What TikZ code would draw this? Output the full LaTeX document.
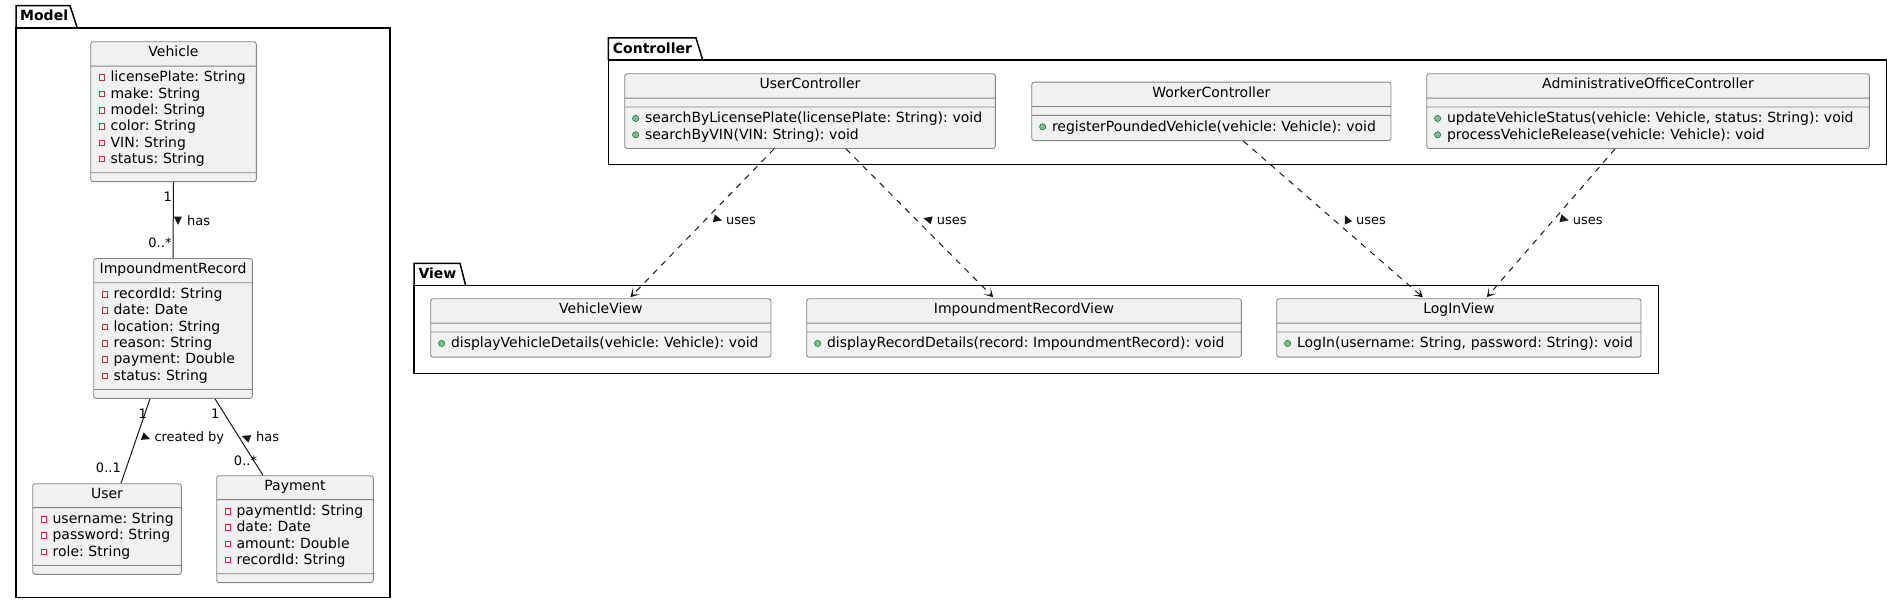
\documentclass[tikz,border=0pt]{standalone}
\usepackage{fontspec}
\setmainfont{DejaVu Sans}
\usepackage{tikz}
\usetikzlibrary{shapes.multipart,arrows.meta}
\definecolor{clsfill}{HTML}{F1F1F1}
\definecolor{clsline}{HTML}{858585}
\definecolor{edgecol}{HTML}{181818}
\definecolor{privred}{HTML}{C82930}
\definecolor{pubfill}{HTML}{84BE84}
\definecolor{publine}{HTML}{038048}
\frenchspacing
\newcommand{\privicon}{\tikz[baseline=0pt]\draw[privred,sharp corners,line width=0.9pt] (0pt,1.5pt) rectangle (5.6pt,7.1pt);}
\newcommand{\pubicon}{\tikz[baseline=0pt]\filldraw[fill=pubfill,draw=publine,line width=0.6pt] (0pt,4.4pt) circle[radius=3.1pt];}
\newcommand{\priv}[1]{\mbox{\strut\hspace*{2pt}\privicon\hspace{5.4pt}#1}}
\newcommand{\pub}[1]{\mbox{\strut\hspace*{1.5pt}\pubicon\hspace{6pt}#1}}
\newcommand{\clstitle}[1]{\noindent\hbox to\hsize{\hfil\rule[-4.8pt]{0pt}{13pt}#1\hfil}}
\newcommand{\lblarrow}[3]{\fill[edgecol,shift={(#1,#2)},rotate=#3] (4.5,0) -- (-4,4) -- (-4,-4) -- cycle;}

\begin{document}
\begin{tikzpicture}[x=1pt,y=-1pt,
  umlclass/.style={rectangle split, rectangle split parts=3, draw=clsline, fill=clsfill,
    line width=0.9pt, rounded corners=2.5pt, inner xsep=6pt, inner ysep=4pt, align=left,
    rectangle split empty part height=0pt, rectangle split empty part depth=0pt,
    anchor=north, font=\fontsize{14}{16.3}\selectfont},
  pkgline/.style={draw=black, line width=1.5pt},
  pkglabel/.style={anchor=base west, inner sep=0pt, font=\bfseries\fontsize{14}{16.3}\selectfont},
  mult/.style={inner sep=0pt, text height=9.5pt, text depth=2.5pt, font=\fontsize{13}{15}\selectfont},
  assoc/.style={draw=edgecol, line width=1pt},
  uses/.style={draw=edgecol, line width=1pt, dash pattern=on 6pt off 6pt,
    -{Stealth[length=9pt,width=10pt,inset=5.5pt]}, shorten >=1.5pt}]
\fill[white] (0,0) rectangle (1902,604);
\useasboundingbox (0,0) rectangle (1902,604);

% packages
\draw[pkgline] (16,28) -- (16,5.7) -- (70,5.7) -- (77.3,28);
\draw[pkgline] (16,28) rectangle (390,597.3);
\node (pmodel) at (20,20.7) [pkglabel] {Model};
\draw[pkgline] (608.3,60) -- (608.3,38) -- (696,38) -- (702.7,60);
\draw[pkgline] (608.3,60) rectangle (1886.7,164.7);
\node (pctrl) at (612.7,53.3) [pkglabel] {Controller};
\draw[pkgline] (414,285.7) -- (414,263.3) -- (460,263.3) -- (465.7,285.7);
\draw[pkgline] (414,285.7) rectangle (1658.3,373.3);
\node (pview) at (418.3,278.3) [pkglabel] {View};

% model classes
\node (veh) at (173.5,41.3) [umlclass, text width=153.6pt]
  {\clstitle{Vehicle}\nodepart{two}\priv{licensePlate: String}\\\priv{make: String}\\\priv{model: String}\\\priv{color: String}\\\priv{VIN: String}\\\priv{status: String}\nodepart{three}};
\node (rec) at (173,258) [umlclass, text width=146.6pt]
  {\clstitle{ImpoundmentRecord}\nodepart{two}\priv{recordId: String}\\\priv{date: Date}\\\priv{location: String}\\\priv{reason: String}\\\priv{payment: Double}\\\priv{status: String}\nodepart{three}};
\node (usr) at (107,483.3) [umlclass, text width=136.6pt]
  {\clstitle{User}\nodepart{two}\priv{username: String}\\\priv{password: String}\\\priv{role: String}\nodepart{three}};
\node (pay) at (295,475.3) [umlclass, text width=144.6pt]
  {\clstitle{Payment}\nodepart{two}\priv{paymentId: String}\\\priv{date: Date}\\\priv{amount: Double}\\\priv{recordId: String}\nodepart{three}};

% controller classes
\node (uc) at (810,73.3) [umlclass, text width=358.6pt]
  {\clstitle{UserController}\nodepart{two}\nodepart{three}\pub{searchByLicensePlate(licensePlate: String): void}\\\pub{searchByVIN(VIN: String): void}};
\node (wc) at (1211.35,81.7) [umlclass, text width=347.3pt]
  {\clstitle{WorkerController}\nodepart{two}\nodepart{three}\pub{registerPoundedVehicle(vehicle: Vehicle): void}};
\node (aoc) at (1648,73.3) [umlclass, text width=430.6pt]
  {\clstitle{AdministrativeOfficeController}\nodepart{two}\nodepart{three}\pub{updateVehicleStatus(vehicle: Vehicle, status: String): void}\\\pub{processVehicleRelease(vehicle: Vehicle): void}};

% view classes
\node (vv) at (600.85,298.3) [umlclass, text width=328.3pt]
  {\clstitle{VehicleView}\nodepart{two}\nodepart{three}\pub{displayVehicleDetails(vehicle: Vehicle): void}};
\node (irv) at (1024,298.3) [umlclass, text width=422.6pt]
  {\clstitle{ImpoundmentRecordView}\nodepart{two}\nodepart{three}\pub{displayRecordDetails(record: ImpoundmentRecord): void}};
\node (liv) at (1458.85,298.3) [umlclass, text width=352.3pt]
  {\clstitle{LogInView}\nodepart{two}\nodepart{three}\pub{LogIn(username: String, password: String): void}};

% associations
\draw[assoc] (veh.south) -- (rec.north);
\node (m1) at (172,198.2) [mult, anchor=east] {1};
\node (m2) at (171.7,243.8) [mult, anchor=east] {0..*};
\lblarrow{178}{220.5}{-90}
\node (l1) at (187,221.5) [mult, anchor=west] {has};

\draw[assoc] ([xshift=-23pt]rec.south) -- ([xshift=14pt]usr.north);
\node (m3) at (142.8,414.8) [mult] {1};
\node (m4) at (121,469.2) [mult, anchor=east] {0..1};
\lblarrow{146}{437.5}{-20}
\node (l2) at (154.3,438.2) [mult, anchor=west] {created by};

\draw[assoc] ([xshift=42pt]rec.south) -- ([xshift=-32pt]pay.north);
\node (m5) at (215.3,414.8) [mult] {1};
\node (m6) at (245.5,461.5) [mult] {0..*};
\lblarrow{246}{437.5}{160}
\node (l3) at (256,438.2) [mult, anchor=west] {has};

% dependencies
\draw[uses] ([xshift=-36pt]uc.south) -- ([xshift=28.5pt]vv.north);
\lblarrow{717.7}{219.3}{-15}
\node (u1) at (726,220.5) [mult, anchor=west] {uses};
\draw[uses] ([xshift=36pt]uc.south) -- ([xshift=-29.7pt]irv.north);
\lblarrow{927.7}{219.3}{165}
\node (u2) at (936.7,220.5) [mult, anchor=west] {uses};
\draw[uses] ([xshift=32pt]wc.south) -- ([xshift=-34.85pt]liv.north);
\lblarrow{1346.7}{219.3}{115}
\node (u3) at (1356,220.5) [mult, anchor=west] {uses};
\draw[uses] ([xshift=-33pt]aoc.south) -- ([xshift=27pt]liv.north);
\lblarrow{1564.3}{219.3}{-15}
\node (u4) at (1572.7,220.5) [mult, anchor=west] {uses};
\end{tikzpicture}
\end{document}
